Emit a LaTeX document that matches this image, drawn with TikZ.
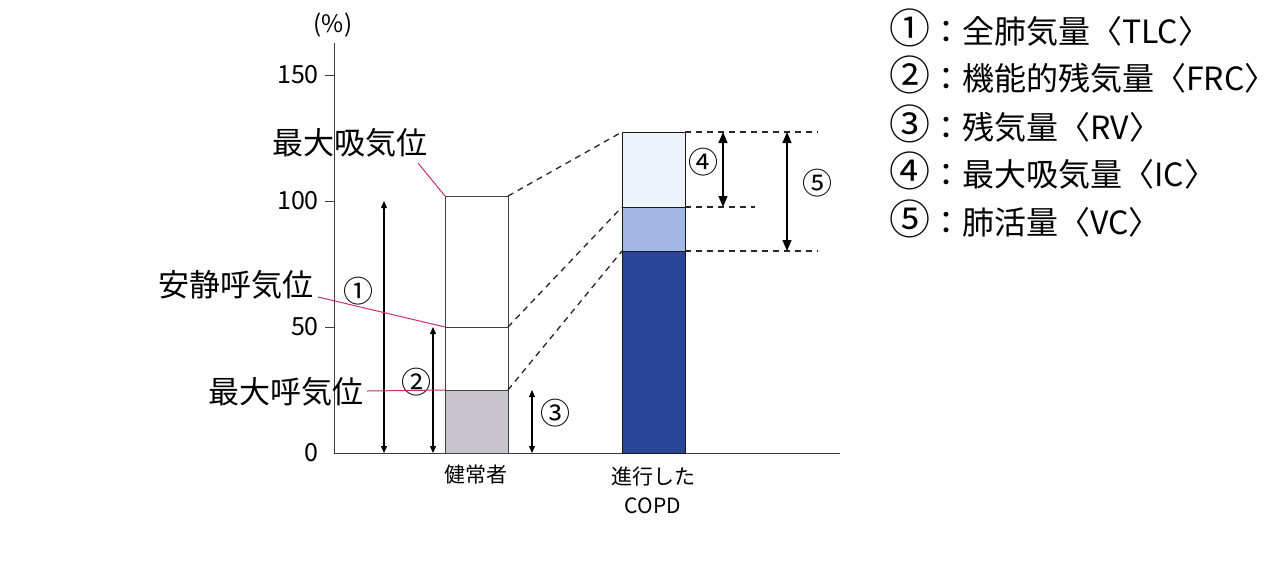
\documentclass[tikz,border=0pt]{standalone}
\usepackage{fontspec}
\setmainfont{Noto Sans CJK JP}
\usetikzlibrary{arrows.meta}
\definecolor{rvgray}{RGB}{200,196,206}
\definecolor{lightb}{RGB}{238,243,251}
\definecolor{midb}{RGB}{163,184,228}
\definecolor{darkb}{RGB}{42,68,152}
\definecolor{mag}{RGB}{210,40,120}
\definecolor{axcol}{RGB}{60,60,60}
\newcommand{\legcirc}[1]{{\fontsize{41}{32}\selectfont #1}}
\begin{document}
\begin{tikzpicture}[x=1pt,y=-1pt,
  axisline/.style={draw=axcol,line width=1pt},
  barline/.style={draw=black!75,line width=1pt},
  dashline/.style={draw=black!85,line width=1.3pt,dash pattern=on 6pt off 5pt},
  dimarrow/.style={line width=1.1pt,{Triangle[length=7pt,width=6pt]}-{Triangle[length=7pt,width=6pt]}},
  bigarrow/.style={line width=1.1pt,{Triangle[length=11pt,width=9pt]}-{Triangle[length=11pt,width=9pt]}},
  magline/.style={draw=mag,line width=1pt},
  bigtxt/.style={font=\fontsize{31}{31}\selectfont,inner sep=0pt},
  legtxt/.style={font=\fontsize{32}{32}\selectfont,inner sep=0pt,anchor=west},
  ticktxt/.style={font=\fontsize{25}{25}\selectfont,inner sep=0pt,anchor=east},
  circtxt/.style={font=\fontsize{30}{30}\selectfont,inner sep=0pt},
  smalltxt/.style={font=\fontsize{21}{21}\selectfont,inner sep=0pt}]
\useasboundingbox (0,0) rectangle (1279,560);

% axes
\coordinate (ytop) at (334,43);
\coordinate (orig) at (334,453);
\coordinate (xend) at (840,453);
\draw[axisline] (ytop) -- (orig) -- (xend);
\foreach \yy/\nm in {75/a,201/b,327/c}{
  \coordinate (tl\nm) at (325,\yy);
  \coordinate (tr\nm) at (334,\yy);
  \draw[axisline] (tl\nm) -- (tr\nm);
}
\node[font=\fontsize{24}{24}\selectfont,inner sep=0pt] (pct) at (333,25) {(\%)};
\node[ticktxt] (t150) at (319,75) {150};
\node[ticktxt] (t100) at (319,201) {100};
\node[ticktxt] (t50) at (319,327) {50};
\node[ticktxt] (t0) at (319,453) {0};

% healthy bar
\coordinate (hTL) at (445,196);
\coordinate (hTR) at (508,196);
\coordinate (hML) at (445,327);
\coordinate (hMR) at (508,327);
\coordinate (hRL) at (445,390);
\coordinate (hRR) at (508,390);
\coordinate (hBR) at (508,453);
\fill[rvgray] (hRL) rectangle (hBR);
\draw[barline] (hTL) rectangle (hBR);
\draw[barline] (hML) -- (hMR);
\draw[barline] (hRL) -- (hRR);

% COPD bar
\coordinate (cTL) at (622,132);
\coordinate (cTR) at (685,132);
\coordinate (cML) at (622,207);
\coordinate (cMR) at (685,207);
\coordinate (cRL) at (622,251);
\coordinate (cRR) at (685,251);
\coordinate (cBR) at (685,453);
\fill[lightb] (cTL) rectangle (cMR);
\fill[midb] (cML) rectangle (cRR);
\fill[darkb] (cRL) rectangle (cBR);
\draw[barline,draw=black!90] (cTL) rectangle (cBR);
\draw[barline,draw=black!90] (cML) -- (cMR);
\draw[barline,draw=black!90] (cRL) -- (cRR);

% dashed connectors
\draw[dashline] (hTR) -- (cTL);
\draw[dashline] (hMR) -- (cML);
\draw[dashline] (hRR) -- (cRL);
\coordinate (dA) at (818,132);
\coordinate (dB) at (755,207);
\coordinate (dC) at (818,251);
\draw[dashline] (cTR) -- (dA);
\draw[dashline] (cMR) -- (dB);
\draw[dashline] (cRR) -- (dC);

% dimension arrows
\coordinate (a1t) at (384,201); \coordinate (a1b) at (384,453);
\coordinate (a2t) at (433,327); \coordinate (a2b) at (433,453);
\coordinate (a3t) at (532,390); \coordinate (a3b) at (532,453);
\coordinate (a4t) at (723,132); \coordinate (a4b) at (723,207);
\coordinate (a5t) at (787,132); \coordinate (a5b) at (787,251);
\draw[dimarrow] (a1t) -- (a1b);
\draw[dimarrow] (a2t) -- (a2b);
\draw[dimarrow] (a3t) -- (a3b);
\draw[bigarrow] (a4t) -- (a4b);
\draw[bigarrow] (a5t) -- (a5b);

\node[circtxt] (n1) at (358,291) {①};
\node[circtxt] (n2) at (416,382) {②};
\node[circtxt] (n3) at (555,413) {③};
\node[circtxt] (n4) at (703,162) {④};
\node[circtxt] (n5) at (817,183) {⑤};

% labels with magenta leaders
\node[bigtxt] (lmax) at (350,143) {最大吸気位};
\node[bigtxt] (lrest) at (236,285) {安静呼気位};
\node[bigtxt] (lmin) at (286,392) {最大呼気位};
\coordinate (m1a) at (418,163);
\coordinate (m2a) at (318,297);
\coordinate (m3a) at (367,391);
\draw[magline] (m1a) -- (hTL);
\draw[magline] (m2a) -- (hML);
\draw[magline] (m3a) -- (hRL);

% category labels
\node[smalltxt] (healthy) at (476,475) {健常者};
\node[smalltxt] (copd1) at (653,477) {進行した};
\node[smalltxt] (copd2) at (653,506) {COPD};

% legend
\node[legtxt] (leg1) at (889,28) {\legcirc{①}：全肺気量〈TLC〉};
\node[legtxt] (leg2) at (889,75) {\legcirc{②}：機能的残気量〈FRC〉};
\node[legtxt] (leg3) at (889,124) {\legcirc{③}：残気量〈RV〉};
\node[legtxt] (leg4) at (889,171) {\legcirc{④}：最大吸気量〈IC〉};
\node[legtxt] (leg5) at (889,219) {\legcirc{⑤}：肺活量〈VC〉};
\end{tikzpicture}
\end{document}
